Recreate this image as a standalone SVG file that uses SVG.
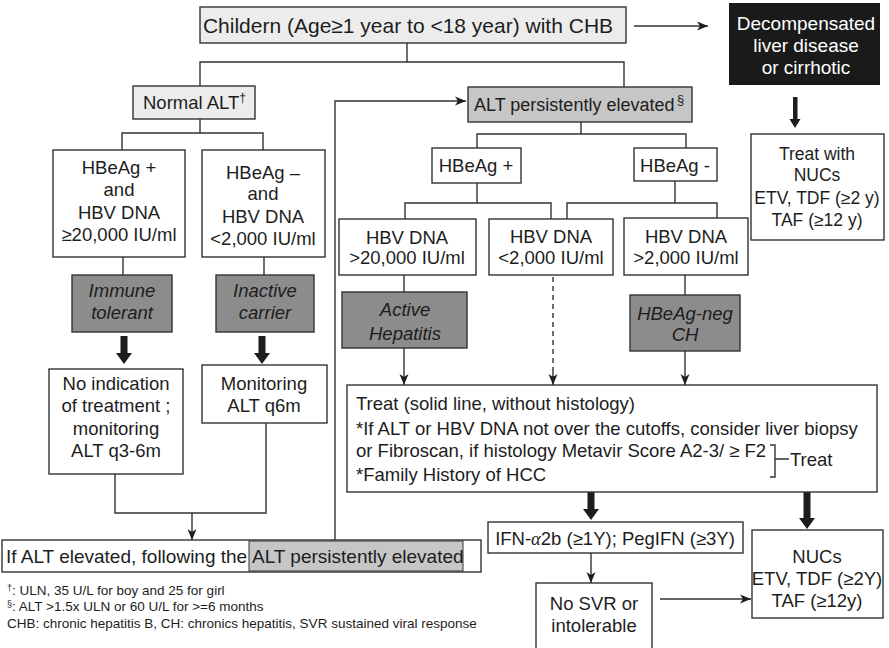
<svg xmlns="http://www.w3.org/2000/svg" width="889" height="648" viewBox="0 0 889 648">
<defs>
<style>
text{font-family:"Liberation Sans",Arial,sans-serif;fill:#1d1d1d;font-size:18.5px}
.c{text-anchor:middle}
.i{font-style:italic}
.box{fill:#fff;stroke:#333;stroke-width:1.4}
.lt{fill:#ececec;stroke:#333;stroke-width:1.4}
.md{fill:#c6c6c6;stroke:#333;stroke-width:1.4}
.dk{fill:#8c8c8c;stroke:#333;stroke-width:1.4}
.ln{fill:none;stroke:#333;stroke-width:1.4}
.ar{fill:none;stroke:#333;stroke-width:1.4;marker-end:url(#ah)}
.ds{fill:none;stroke:#333;stroke-width:1.4;stroke-dasharray:5,4}
.fn{font-size:13.5px}
.th{fill:#1d1d1d}
</style>
<marker id="ah" markerUnits="userSpaceOnUse" markerWidth="12" markerHeight="10" refX="11" refY="5" orient="auto">
<path d="M0,0.5 L11,5 L0,9.5 L3,5 z" fill="#1d1d1d"/>
</marker>
<path id="thick" d="M-3.5,0 H3.5 V17 H8 L0,28 L-8,17 H-3.5 z"/>
</defs>

<g id="connectors">
<line class="ar" x1="634" y1="26" x2="708" y2="26"/>
<path class="ln" d="M407,43 V62 M200,86 V62 H624 V87"/>
<path class="ln" d="M200,119 V133 M122,150 V133 H263 V150"/>
<path class="ln" d="M123,257 V275 M264,257 V275"/>
<use href="#thick" class="th" x="124" y="336"/>
<use href="#thick" class="th" x="262" y="336"/>
<path class="ln" d="M115,474 V513 H266 V423"/>
<line class="ar" x1="192" y1="513" x2="192" y2="540"/>
<path class="ar" d="M335,540 V101 H466"/>
<path class="ln" d="M581,122 V134 M477,148 V134 H686 V148"/>
<path class="ln" d="M477,183 V203 M405,219 V203 H551 V219"/>
<path class="ln" d="M675,181 V203 M567,219 V203 H717 V218"/>
<path class="ln" d="M404,275 V292 M685,275 V295"/>
<line class="ds" x1="553" y1="277" x2="553" y2="380"/>
<line class="ar" x1="553" y1="372" x2="553" y2="385"/>
<line class="ar" x1="404" y1="348" x2="404" y2="385"/>
<line class="ar" x1="685" y1="351" x2="685" y2="385"/>
<use href="#thick" class="th" x="591" y="492"/>
<path class="th" d="M803.5,492 H810.5 V518 H815 L807,529 L799,518 H803.5 z"/>
<path class="th" d="M793,97 H797.5 V119 H800.5 L795,128 L789.5,119 H793 z"/>
<line class="ar" x1="591" y1="553" x2="591" y2="583"/>
<line class="ar" x1="660" y1="599" x2="751" y2="599"/>
</g>

<g id="n-title"><rect class="lt" x="200" y="7" width="426" height="36"/><text class="c" x="408" y="33" style="font-size:21px">Childern (Age≥1 year to &lt;18 year) with CHB</text></g>

<g id="n-decomp"><rect x="729" y="3" width="151" height="82" fill="#1a1a1a"/>
<text class="c" x="806" y="30" style="fill:#fff;font-size:19px">Decompensated</text>
<text class="c" x="806" y="52" style="fill:#fff;font-size:19px">liver disease</text>
<text class="c" x="806" y="74" style="fill:#fff;font-size:19px">or cirrhotic</text></g>

<g id="n-normal"><rect class="lt" x="133" y="86" width="122" height="33"/><text x="143" y="109">Normal ALT<tspan dy="-7" style="font-size:12px">†</tspan></text></g>

<g id="n-persist"><rect class="md" x="468" y="87" width="224" height="35"/><text x="474" y="111" style="font-size:18px">ALT persistently elevated</text><text x="677" y="104" style="font-size:13px">§</text></g>

<g id="n-treatnucs"><rect class="box" x="751" y="134" width="133" height="106"/>
<text class="c" x="817" y="160" style="font-size:17.5px">Treat with</text>
<text class="c" x="817" y="181" style="font-size:17.5px">NUCs</text>
<text class="c" x="817" y="204" style="font-size:17.5px">ETV, TDF (≥2 y)</text>
<text class="c" x="817" y="226" style="font-size:17.5px">TAF (≥12 y)</text></g>

<g id="n-hbeagpos-dna"><rect class="box" x="53" y="150" width="132" height="107"/>
<text class="c" x="119" y="173.5">HBeAg +</text>
<text class="c" x="119" y="196">and</text>
<text class="c" x="119" y="218.5">HBV DNA</text>
<text class="c" x="119" y="241">≥20,000 IU/ml</text></g>

<g id="n-hbeagneg-dna"><rect class="box" x="202" y="150" width="123" height="107"/>
<text class="c" x="263" y="178.5">HBeAg –</text>
<text class="c" x="263" y="200">and</text>
<text class="c" x="263" y="222.5">HBV DNA</text>
<text class="c" x="263" y="245">&lt;2,000 IU/ml</text></g>

<g id="n-immune"><rect class="dk" x="72" y="275" width="100" height="57"/>
<text class="c i" x="122" y="296.5">Immune</text>
<text class="c i" x="122" y="318.5">tolerant</text></g>

<g id="n-inactive"><rect class="dk" x="216" y="275" width="98" height="57"/>
<text class="c i" x="265" y="296.5">Inactive</text>
<text class="c i" x="265" y="318.5">carrier</text></g>

<g id="n-noind"><rect class="box" x="49" y="369" width="134" height="105"/>
<text class="c" x="116" y="389.5">No indication</text>
<text class="c" x="116" y="411.5">of treatment ;</text>
<text class="c" x="116" y="434.5">monitoring</text>
<text class="c" x="116" y="456.5">ALT q3-6m</text></g>

<g id="n-monit"><rect class="box" x="202" y="365" width="125" height="58"/>
<text class="c" x="264" y="389.5">Monitoring</text>
<text class="c" x="264" y="411.5">ALT q6m</text></g>

<g id="n-ifalt"><rect class="box" x="2" y="540" width="479" height="32"/><rect x="249" y="541" width="214" height="30" fill="#c6c6c6" stroke="#333" stroke-width="1"/>
<text x="6" y="563" style="font-size:19px">If ALT elevated, following the</text>
<text x="252" y="563" style="font-size:19px">ALT persistently elevated</text></g>

<g id="n-hbeagpos"><rect class="box" x="432" y="148" width="89" height="35"/><text class="c" x="476" y="172">HBeAg +</text></g>
<g id="n-hbeagneg"><rect class="box" x="634" y="148" width="83" height="33"/><text class="c" x="675" y="172">HBeAg -</text></g>

<g id="n-dna1"><rect class="box" x="339" y="219" width="137" height="56"/>
<text class="c" x="407" y="243.5">HBV DNA</text><text class="c" x="407" y="264">&gt;20,000 IU/ml</text></g>
<g id="n-dna2"><rect class="box" x="489" y="219" width="124" height="56"/>
<text class="c" x="551" y="243">HBV DNA</text><text class="c" x="551" y="264">&lt;2,000 IU/ml</text></g>
<g id="n-dna3"><rect class="box" x="624" y="218" width="124" height="57"/>
<text class="c" x="686" y="243">HBV DNA</text><text class="c" x="686" y="264">&gt;2,000 IU/ml</text></g>

<g id="n-active"><rect class="dk" x="342" y="292" width="125" height="56"/>
<text class="c i" x="405" y="315.5">Active</text><text class="c i" x="405" y="339.5">Hepatitis</text></g>
<g id="n-negch"><rect class="dk" x="630" y="295" width="110" height="56"/>
<text class="c i" x="685" y="319.5">HBeAg-neg</text><text class="c i" x="685" y="340.5">CH</text></g>

<g id="n-treat"><rect class="box" x="347" y="385" width="530" height="107"/>
<text x="356" y="409.5">Treat (solid line, without histology)</text>
<text x="356" y="434.5">*If ALT or HBV DNA not over the cutoffs, consider liver biopsy</text>
<text x="356" y="456.5">or Fibroscan, if histology Metavir Score A2-3/ ≥ F2</text>
<text x="356" y="480.5">*Family History of HCC</text>
<path class="ln" d="M770,445 H775 V477 H770 M775,459 H789"/>
<text x="790" y="465.5">Treat</text></g>

<g id="n-ifn"><rect class="box" x="488" y="522" width="255" height="31"/>
<text class="c" x="615" y="544.5">IFN-<tspan style="font-family:'Liberation Serif',serif;font-style:italic">α</tspan>2b (≥1Y); PegIFN (≥3Y)</text></g>

<g id="n-nosvr"><rect class="box" x="536" y="583" width="116" height="70"/>
<text class="c" x="594" y="609.5">No SVR or</text><text class="c" x="594" y="631.5">intolerable</text></g>

<g id="n-nucs"><rect class="box" x="752" y="530" width="131" height="88"/>
<text class="c" x="817" y="562.5">NUCs</text>
<text class="c" x="817" y="584.5">ETV, TDF (≥2Y)</text>
<text class="c" x="817" y="606.5">TAF (≥12y)</text></g>

<g id="footnotes">
<text class="fn" x="7" y="595"><tspan dy="-4" style="font-size:9px">†</tspan><tspan dy="4">: ULN, 35 U/L for boy and 25 for girl</tspan></text>
<text class="fn" x="7" y="611"><tspan dy="-4" style="font-size:9px">§</tspan><tspan dy="4">: ALT &gt;1.5x ULN or 60 U/L for &gt;=6 months</tspan></text>
<text class="fn" x="7" y="628">CHB: chronic hepatitis B, CH: chronics hepatitis, SVR sustained viral response</text>
</g>
</svg>
